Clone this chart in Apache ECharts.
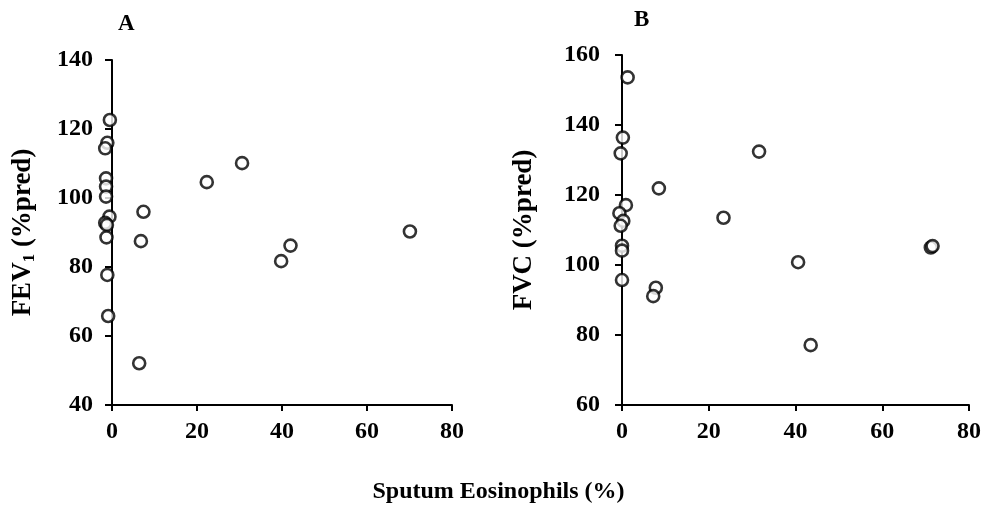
<!DOCTYPE html>
<html>
<head>
<meta charset="utf-8">
<script src="https://cdn.jsdelivr.net/npm/echarts@6/dist/echarts.min.js"></script>
<style>
html,body{margin:0;padding:0;background:#fff;}
#chart{width:997px;height:518px;}
</style>
</head>
<body>
<div id="chart"></div>
<script>
// Panel A: FEV1 (%pred) vs sputum eosinophils (%)
var eosA = [-0.5, -1.1, -1.6, -1.4, -1.4, -1.4, -0.6, -1.6, -1.2, -1.3, -1.1, -0.9, 6.4, 7.4, 6.8, 22.3, 30.6, 39.8, 42.0, 70.1];
var fev1 = [122.6, 116.0, 114.4, 105.7, 103.3, 100.4, 94.6, 92.8, 92.2, 88.6, 77.7, 65.8, 52.1, 96.0, 87.5, 104.6, 110.1, 81.7, 86.2, 90.3];
// Panel B: FVC (%pred) vs sputum eosinophils (%)
var eosB = [1.3, 0.2, -0.3, 0.9, -0.6, 0.3, -0.3, 0.0, 0.0, 0.0, 8.5, 7.8, 7.2, 23.4, 31.6, 40.6, 43.5, 71.2, 71.6];
var fvc = [153.6, 136.4, 131.9, 117.1, 114.8, 112.6, 111.2, 105.5, 104.1, 95.7, 121.9, 93.5, 91.1, 113.5, 132.4, 100.8, 77.1, 105.0, 105.4];
var xTicks = [0, 20, 40, 60, 80];
var yTicksA = [40, 60, 80, 100, 120, 140];
var yTicksB = [60, 80, 100, 120, 140, 160];

function pairs(xs, ys) { return xs.map(function (x, i) { return [x, ys[i]]; }); }

var FONT = '"Liberation Serif", "DejaVu Serif", serif';
var labelStyle = { color: '#000', fontSize: 24, fontWeight: 'bold', fontFamily: FONT };
var lineStyle = { color: '#000', width: 2 };

function xAxis(idx) {
  return {
    type: 'value', gridIndex: idx,
    min: xTicks[0], max: xTicks[xTicks.length - 1], interval: 20,
    axisLine: { show: true, onZero: false, lineStyle: lineStyle },
    axisTick: { show: true, length: 6, lineStyle: lineStyle },
    axisLabel: Object.assign({ margin: 15 }, labelStyle),
    splitLine: { show: false }
  };
}
function yAxis(idx, ticks, name, gap, margin) {
  return {
    type: 'value', gridIndex: idx,
    min: ticks[0], max: ticks[ticks.length - 1], interval: 20,
    axisLine: { show: true, onZero: false, lineStyle: lineStyle },
    axisTick: { show: true, length: 7, lineStyle: lineStyle },
    axisLabel: Object.assign({ margin: margin }, labelStyle),
    splitLine: { show: false },
    name: name, nameLocation: 'middle', nameRotate: 90, nameGap: gap,
    nameTextStyle: {
      color: '#000', fontSize: 27, fontWeight: 'bold', fontFamily: FONT,
      rich: { sub: { fontSize: 17, fontWeight: 'bold', fontFamily: FONT, color: '#000', padding: [12, 0, 0, 0] } }
    }
  };
}
var pointStyle = { color: '#fff', borderColor: '#000', borderWidth: 2.6 };

var chart = echarts.init(document.getElementById('chart'), null, { renderer: 'canvas' });
chart.setOption({
  backgroundColor: '#fff',
  animation: false,
  grid: [
    { left: 112, top: 60, width: 340, height: 345 },
    { left: 622, top: 55, width: 347, height: 350 }
  ],
  xAxis: [xAxis(0), xAxis(1)],
  yAxis: [
    yAxis(0, yTicksA, 'FEV{sub|1} (%pred)', 74, 19),
    yAxis(1, yTicksB, 'FVC (%pred)', 84, 22)
  ],
  series: [
    { type: 'scatter', xAxisIndex: 0, yAxisIndex: 0, data: pairs(eosA, fev1), symbol: 'circle', symbolSize: 12, clip: false, itemStyle: pointStyle },
    { type: 'scatter', xAxisIndex: 1, yAxisIndex: 1, data: pairs(eosB, fvc), symbol: 'circle', symbolSize: 12, clip: false, itemStyle: pointStyle }
  ],
  graphic: [
    { type: 'text', left: 118, top: 13, style: { text: 'A', fill: '#000', font: 'bold 23px ' + FONT } },
    { type: 'text', left: 634, top: 9, style: { text: 'B', fill: '#000', font: 'bold 23px ' + FONT } },
    { type: 'text', left: 'center', top: 480, style: { text: 'Sputum Eosinophils (%)', fill: '#000', font: 'bold 24px ' + FONT } }
  ]
});
</script>
</body>
</html>
